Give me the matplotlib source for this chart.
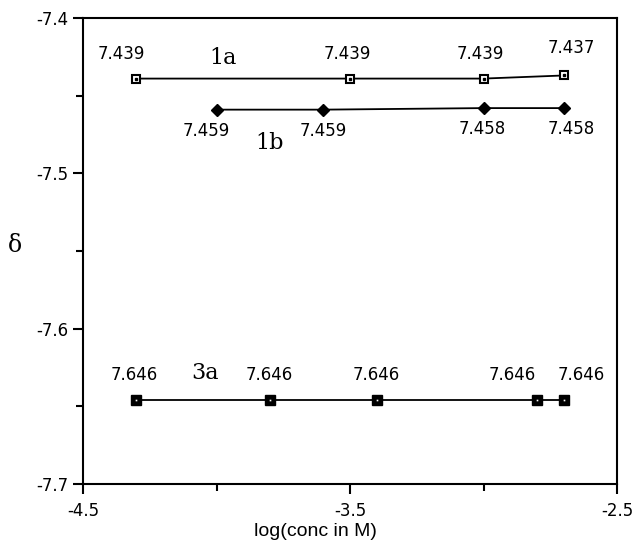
import numpy as np
import matplotlib.pyplot as plt
from matplotlib.ticker import MultipleLocator, FixedLocator

# data
x_1a = [-4.3, -3.5, -3.0, -2.7]
y_1a = [-7.439, -7.439, -7.439, -7.437]
lab_1a = ["7.439", "7.439", "7.439", "7.437"]

x_1b = [-4.0, -3.6, -3.0, -2.7]
y_1b = [-7.459, -7.459, -7.458, -7.458]
lab_1b = ["7.459", "7.459", "7.458", "7.458"]

x_3a = [-4.3, -3.8, -3.4, -2.8, -2.7]
y_3a = [-7.646, -7.646, -7.646, -7.646, -7.646]
lab_3a = ["7.646", "7.646", "7.646", "7.646", "7.646"]

xticks = [-4.5, -3.5, -2.5]
yticks = [-7.7, -7.6, -7.5, -7.4]

# label offsets in pixels (layout only)
off_1a = [(-15, 25), (-3, 25), (-3, 25), (8, 27)]
off_1b = [(-10, -21), (0, -21), (-1, -21), (8, -21)]
off_3a = [(-2, 25), (-1, 25), (0, 25), (-25, 25), (18, 25)]

fig = plt.figure(figsize=(6.33, 5.58), dpi=100)
ax = fig.add_axes([83/633, 1 - 484/558, (617-83)/633, (484-18)/558])

ax.plot(x_1a, y_1a, color='black', lw=1.3, marker='s', ms=6,
        mfc='white', mec='black', mew=1.5)
ax.plot(x_1a, y_1a, ls='none', marker='s', ms=1.5, color='black')
ax.plot(x_1b, y_1b, color='black', lw=1.3, marker='D', ms=6, mfc='black', mec='black')
ax.plot(x_3a, y_3a, color='black', lw=1.3, marker='s', ms=6.5, mfc='black', mec='black')
ax.plot(x_3a, y_3a, ls='none', marker='s', ms=1.2, mew=0, color='white')

for xs, ys, labs, offs in [(x_1a, y_1a, lab_1a, off_1a),
                           (x_1b, y_1b, lab_1b, off_1b),
                           (x_3a, y_3a, lab_3a, off_3a)]:
    for x, y, s, o in zip(xs, ys, labs, offs):
        ax.annotate(s, (x, y), xytext=o, textcoords='offset pixels',
                    ha='center', va='center', fontsize=12, family='DejaVu Sans')

serif = dict(family='DejaVu Serif', fontsize=16, ha='center', va='center')
ax.text(-3.976, -7.4258, "1a", **serif)
ax.text(-3.80, -7.4805, "1b", **serif)
ax.text(-4.043, -7.6285, "3a", **serif)

ax.set_xlim(-4.5, -2.5)
ax.set_ylim(-7.7, -7.4)
ax.xaxis.set_major_locator(FixedLocator(xticks))
ax.xaxis.set_minor_locator(MultipleLocator(0.5))
ax.yaxis.set_major_locator(FixedLocator(yticks))
ax.yaxis.set_minor_locator(MultipleLocator(0.05))
ax.xaxis.set_major_formatter(plt.FuncFormatter(lambda v, p: f"{v:.1f}"))
ax.yaxis.set_major_formatter(plt.FuncFormatter(lambda v, p: f"{v:.1f}"))
ax.tick_params(which='major', direction='out', length=7, width=1.5, labelsize=12)
ax.tick_params(axis='x', which='major', pad=6)
ax.tick_params(which='minor', direction='out', length=5, width=1.5)
for sp in ax.spines.values():
    sp.set_linewidth(1.5)

fig.text(15/633, 1 - 245/558, "δ", family='DejaVu Serif', fontsize=17,
         ha='center', va='center')
fig.text(315/633, 1 - 532/558, "log(conc in M)", family='Liberation Sans',
         fontsize=14, ha='center', va='center')

fig.savefig("out.png", dpi=100)
